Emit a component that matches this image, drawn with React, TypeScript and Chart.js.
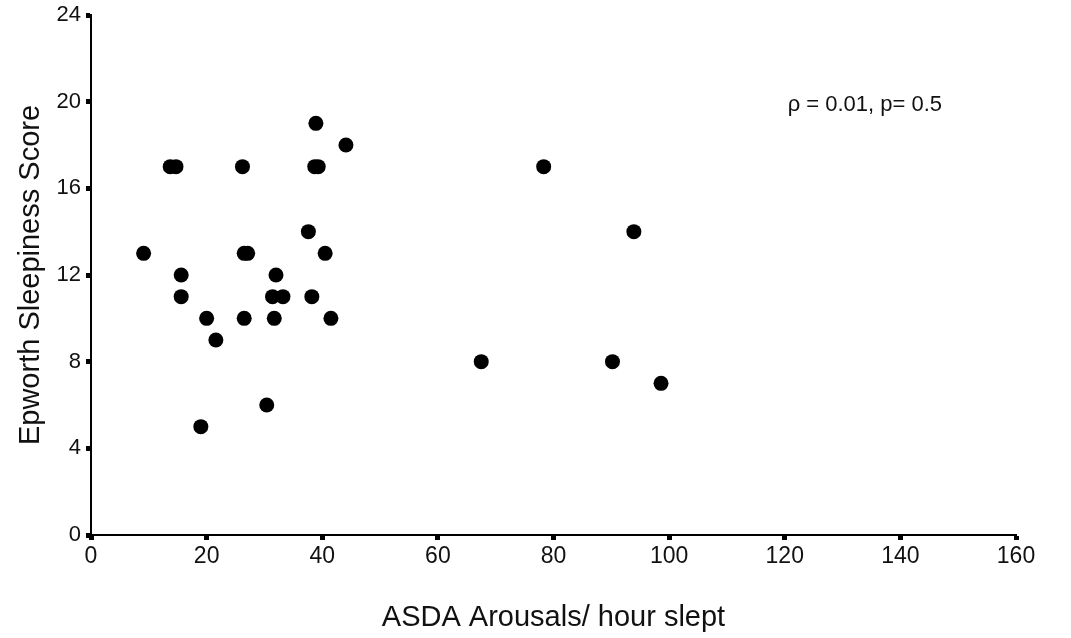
import React, { useEffect, useRef } from "react";
import { Chart, registerables } from "chart.js";

Chart.register(...registerables);

const arousals: number[] = [
  9.1, 13.7, 14.7, 15.6, 15.6, 20.0, 21.6, 19.0, 26.2, 26.5, 27.1, 26.5, 30.4,
  31.4, 33.2, 32.0, 31.7, 37.6, 38.2, 38.9, 38.7, 39.3, 40.5, 41.5, 44.1,
  67.5, 78.3, 90.2, 93.9, 98.6,
];
const epworth: number[] = [
  13, 17, 17, 12, 11, 10, 9, 5, 17, 13, 13, 10, 6,
  11, 11, 12, 10, 14, 11, 19, 17, 17, 13, 10, 18,
  8, 17, 8, 14, 7,
];
const xTicks: number[] = [0, 20, 40, 60, 80, 100, 120, 140, 160];
const yTicks: number[] = [0, 4, 8, 12, 16, 20, 24];
const xTitle = "ASDA Arousals/ hour slept";
const yTitle = "Epworth Sleepiness Score";
const annotationText = "\u03c1 = 0.01, p= 0.5";
const annotationAt = { x: 120.5, y: 19.85 };

const FONT = "'Liberation Sans', Arial, sans-serif";

const annotationPlugin = {
  id: "corrAnnotation",
  afterDatasetsDraw(chart: any) {
    const { ctx, scales } = chart;
    const px = scales.x.getPixelForValue(annotationAt.x);
    const py = scales.y.getPixelForValue(annotationAt.y);
    ctx.save();
    ctx.fillStyle = "#111";
    ctx.font = `22px ${FONT}`;
    ctx.textAlign = "left";
    ctx.textBaseline = "middle";
    ctx.fillText(annotationText, px, py);
    ctx.restore();
  },
};

export default function App() {
  const ref = useRef<HTMLCanvasElement | null>(null);

  useEffect(() => {
    document.body.style.margin = "0";
    const canvas = ref.current;
    if (!canvas) return;
    const points = arousals.map((x, i) => ({ x, y: epworth[i] }));
    const chart = new Chart(canvas, {
      type: "scatter",
      data: {
        datasets: [
          {
            data: points,
            backgroundColor: "#000",
            borderWidth: 0,
            pointRadius: 7.5,
            pointHoverRadius: 7.5,
          },
        ],
      },
      options: {
        responsive: false,
        animation: false,
        events: [],
        layout: { padding: { top: 15, right: 55, bottom: 0, left: 0 } },
        plugins: {
          legend: { display: false },
          tooltip: { enabled: false },
        },
        scales: {
          x: {
            type: "linear",
            min: 0,
            max: 160,
            afterBuildTicks: (scale: any) => {
              scale.ticks = xTicks.map((v) => ({ value: v }));
            },
            afterFit: (scale: any) => {
              scale.height = 103;
            },
            border: { color: "#000", width: 2 },
            grid: {
              drawOnChartArea: false,
              drawTicks: true,
              tickLength: 5,
              tickWidth: 5,
              color: "#000",
            },
            ticks: {
              color: "#111",
              font: { family: FONT, size: 23 },
              padding: 3,
              maxRotation: 0,
            },
            title: {
              display: true,
              text: xTitle,
              color: "#111",
              font: { family: FONT, size: 29 },
              padding: { top: 3, bottom: 3 },
            },
          },
          y: {
            type: "linear",
            min: 0,
            max: 24,
            afterBuildTicks: (scale: any) => {
              scale.ticks = yTicks.map((v) => ({ value: v }));
            },
            afterFit: (scale: any) => {
              scale.width = 91;
              scale.paddingTop = 0;
              scale.paddingBottom = 0;
            },
            border: { color: "#000", width: 2 },
            grid: {
              drawOnChartArea: false,
              drawTicks: true,
              tickLength: 5,
              tickWidth: 5,
              color: "#000",
            },
            ticks: {
              color: "#111",
              font: { family: FONT, size: 22 },
              padding: 5,
            },
            title: {
              display: true,
              text: yTitle,
              color: "#111",
              font: { family: FONT, size: 29 },
              padding: { top: 14, bottom: 14 },
            },
          },
        },
      },
      plugins: [annotationPlugin],
    });
    return () => chart.destroy();
  }, []);

  return (
    <div style={{ width: 1071, height: 638, background: "#fff" }}>
      <canvas ref={ref} width={1071} height={638} style={{ display: "block" }} />
    </div>
  );
}
